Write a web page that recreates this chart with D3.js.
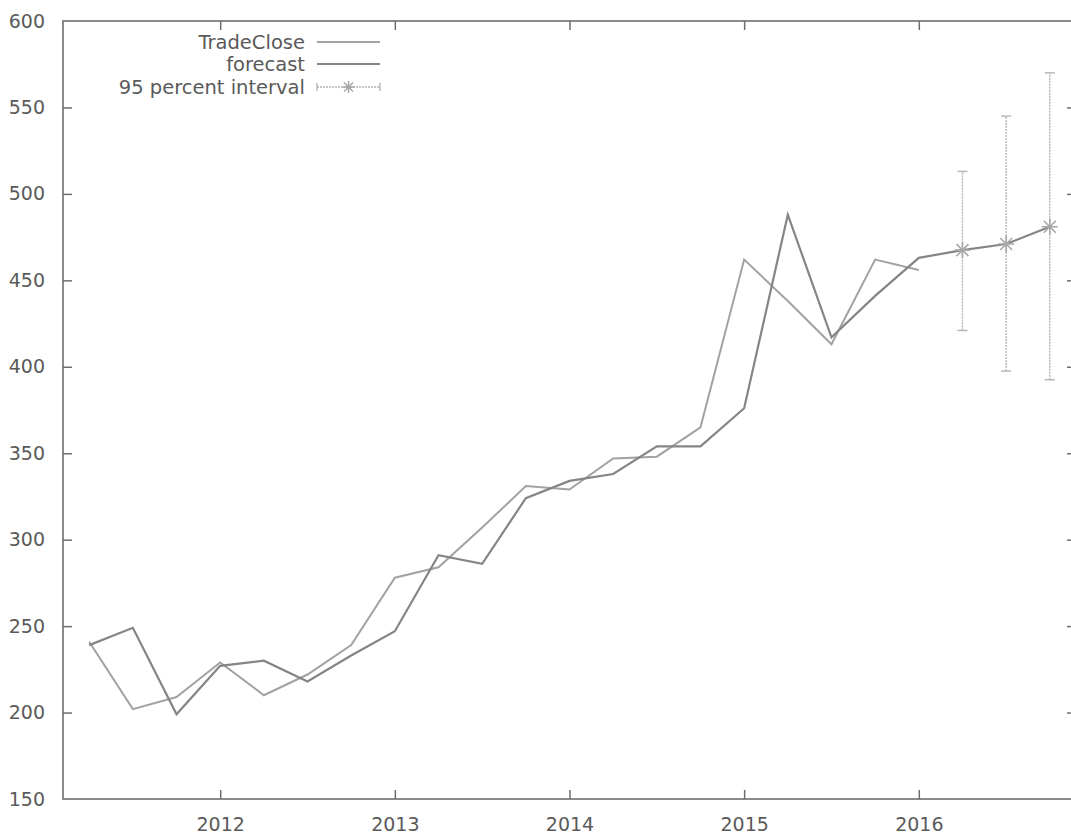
<!DOCTYPE html>
<html>
<head>
<meta charset="utf-8">
<script src="https://cdn.jsdelivr.net/npm/d3@7"></script>
<style>
  html, body { margin: 0; padding: 0; background: #ffffff; }
  svg { display: block; }
  text { font-family: "DejaVu Sans", Verdana, sans-serif; fill: #5a5a5a; }
</style>
</head>
<body>
<svg id="chart" width="1071" height="839"></svg>
<script>
// Quarterly observations (year:quarter)
const periods = [
  "2011:2","2011:3","2011:4","2012:1","2012:2","2012:3","2012:4",
  "2013:1","2013:2","2013:3","2013:4","2014:1","2014:2","2014:3","2014:4",
  "2015:1","2015:2","2015:3","2015:4","2016:1","2016:2","2016:3","2016:4"
];

// Actual closing values (through 2016:1)
const tradeClose = [241, 202, 209, 229, 210, 222, 239, 278, 284, 307, 331, 329,
                    347, 348, 365, 462, 438, 413, 462, 456];

// Fitted values and out-of-sample forecast
const forecast = [239, 249, 199, 227, 230, 218, 233, 247, 291, 286, 324, 334,
                  338, 354, 354, 376, 488, 417, 441, 463, 467.5, 471, 481];

// 95 percent interval for the out-of-sample quarters
const intervalPeriods = ["2016:2", "2016:3", "2016:4"];
const intervalLow  = [421, 397.5, 392.5];
const intervalHigh = [513, 545, 570];

const yTicks = [150, 200, 250, 300, 350, 400, 450, 500, 550, 600];
const xTicks = [2012, 2013, 2014, 2015, 2016];

const legendLabels = ["TradeClose", "forecast", "95 percent interval"];

// ---- layout ----
const plot = { left: 63, right: 1076, top: 21, bottom: 799 };

const toTime = p => { const [yr, q] = p.split(":").map(Number); return yr + (q - 1) / 4; };

const x = d3.scaleLinear().domain([2011.1, 2016.9]).range([plot.left, plot.right]);
const y = d3.scaleLinear().domain([150, 600]).range([plot.bottom, plot.top]);

const svg = d3.select("#chart");
const axisColor = "#6e6e6e";
const closeColor = "#a2a2a2";
const fcColor = "#858585";
const ciColor = "#b4b4b4";

// axes with inward ticks, mirrored on top and right
const fontSize = "19px";
const gL = svg.append("g").attr("transform", `translate(${plot.left},0)`)
  .call(d3.axisLeft(y).tickValues(yTicks).tickSize(-9).tickPadding(18).tickFormat(d3.format("d")));
const gR = svg.append("g").attr("transform", `translate(${plot.right},0)`)
  .call(d3.axisRight(y).tickValues(yTicks).tickSize(-9).tickFormat(""));
const gB = svg.append("g").attr("transform", `translate(0,${plot.bottom})`)
  .call(d3.axisBottom(x).tickValues(xTicks).tickSize(-9).tickPadding(19).tickFormat(d3.format("d")));
const gT = svg.append("g").attr("transform", `translate(0,${plot.top})`)
  .call(d3.axisTop(x).tickValues(xTicks).tickSize(-9).tickFormat(""));

[gL, gR, gB, gT].forEach(g => {
  g.select(".domain").remove();
  g.selectAll(".tick line").attr("stroke", axisColor).attr("stroke-width", 1.5);
  g.selectAll(".tick text").style("font-size", fontSize).attr("fill", "#5a5a5a");
});
// drop the ticks that sit on the frame corners
gL.selectAll(".tick").filter(d => d === 150 || d === 600).select("line").remove();
gR.selectAll(".tick").filter(d => d === 150 || d === 600).select("line").remove();

// plot frame
svg.append("rect")
  .attr("x", plot.left).attr("y", plot.top)
  .attr("width", plot.right - plot.left).attr("height", plot.bottom - plot.top)
  .attr("fill", "none").attr("stroke", axisColor).attr("stroke-width", 1.6);

// ---- series ----
const line = d3.line().x(d => x(d.t)).y(d => y(d.v));

const closeData = tradeClose.map((v, i) => ({ t: toTime(periods[i]), v }));
const fcData = forecast.map((v, i) => ({ t: toTime(periods[i]), v }));

svg.append("path").datum(closeData)
  .attr("d", line).attr("fill", "none")
  .attr("stroke", closeColor).attr("stroke-width", 2).attr("stroke-linejoin", "miter");

svg.append("path").datum(fcData)
  .attr("d", line).attr("fill", "none")
  .attr("stroke", fcColor).attr("stroke-width", 2.2).attr("stroke-linejoin", "miter");

// interval bars with caps and star markers
const ciData = intervalPeriods.map((p, i) => ({
  t: toTime(p), lo: intervalLow[i], hi: intervalHigh[i],
  mid: forecast[periods.indexOf(p)]
}));
const capW = 5;
const ci = svg.append("g").attr("stroke", ciColor).attr("stroke-width", 1.4).attr("fill", "none");
ci.selectAll("line.bar").data(ciData).join("line").attr("class", "bar")
  .attr("x1", d => x(d.t)).attr("x2", d => x(d.t))
  .attr("y1", d => y(d.lo)).attr("y2", d => y(d.hi))
  .attr("stroke-dasharray", "2,1");
ci.selectAll("line.capHi").data(ciData).join("line").attr("class", "capHi")
  .attr("x1", d => x(d.t) - capW).attr("x2", d => x(d.t) + capW)
  .attr("y1", d => y(d.hi)).attr("y2", d => y(d.hi));
ci.selectAll("line.capLo").data(ciData).join("line").attr("class", "capLo")
  .attr("x1", d => x(d.t) - capW).attr("x2", d => x(d.t) + capW)
  .attr("y1", d => y(d.lo)).attr("y2", d => y(d.lo));

function starPath(cx, cy, r) {
  const k = r * 0.75;
  return `M${cx - r},${cy}H${cx + r}M${cx},${cy - r}V${cy + r}` +
         `M${cx - k},${cy - k}L${cx + k},${cy + k}M${cx - k},${cy + k}L${cx + k},${cy - k}`;
}
svg.append("g").selectAll("path").data(ciData).join("path")
  .attr("d", d => starPath(x(d.t), y(d.mid), 8))
  .attr("stroke", "#a8a8a8").attr("stroke-width", 1.6).attr("fill", "none");

// ---- legend ----
const legX = 305, lineX0 = 317, lineX1 = 380;
const legY = [42, 64, 87];
const leg = svg.append("g");
leg.selectAll("text").data(legendLabels).join("text")
  .attr("x", legX).attr("y", (d, i) => legY[i])
  .attr("dy", "0.35em").attr("text-anchor", "end")
  .style("font-size", "19.5px").text(d => d);

leg.append("line").attr("x1", lineX0).attr("x2", lineX1).attr("y1", legY[0]).attr("y2", legY[0])
  .attr("stroke", closeColor).attr("stroke-width", 2);
leg.append("line").attr("x1", lineX0).attr("x2", lineX1).attr("y1", legY[1]).attr("y2", legY[1])
  .attr("stroke", fcColor).attr("stroke-width", 2.2);
const lg = leg.append("g").attr("stroke", ciColor).attr("stroke-width", 1.4).attr("fill", "none");
lg.append("line").attr("x1", lineX0).attr("x2", lineX1).attr("y1", legY[2]).attr("y2", legY[2])
  .attr("stroke-dasharray", "2,1");
lg.append("line").attr("x1", lineX0).attr("x2", lineX0).attr("y1", legY[2] - 4).attr("y2", legY[2] + 4);
lg.append("line").attr("x1", lineX1).attr("x2", lineX1).attr("y1", legY[2] - 4).attr("y2", legY[2] + 4);
leg.append("path").attr("d", starPath((lineX0 + lineX1) / 2, legY[2], 6))
  .attr("stroke", "#a8a8a8").attr("stroke-width", 1.5).attr("fill", "none");
</script>
</body>
</html>
